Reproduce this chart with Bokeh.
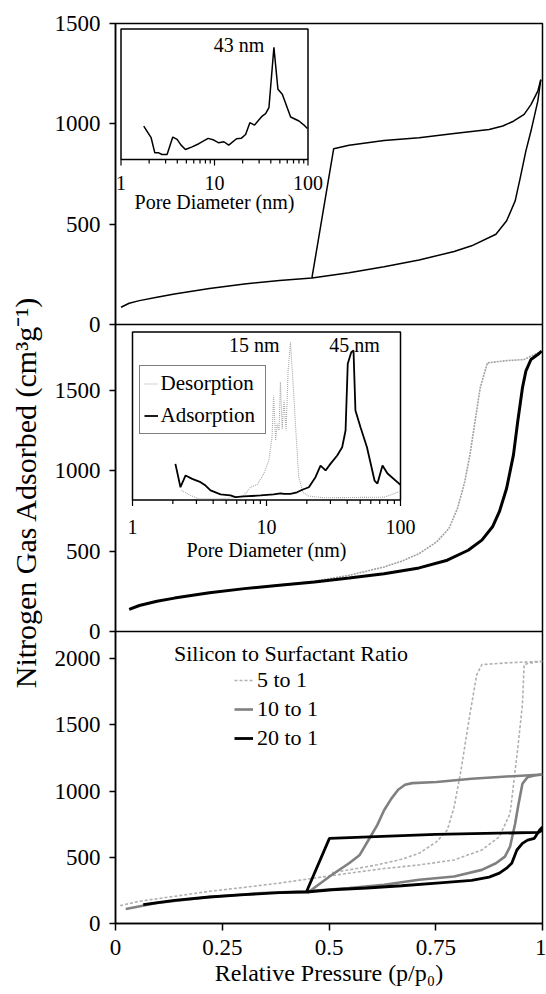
import math
from bokeh.plotting import figure
from bokeh.models import (Range1d, LogScale, FixedTicker, NumeralTickFormatter, CustomJSTickFormatter,
                          Span, Label, Legend, LegendItem)
from bokeh.core.properties import value
from bokeh.embed import file_html
from bokeh.resources import INLINE

FONT = "Liberation Serif"

# ---------------- data ----------------
x_ticks = [0, 0.25, 0.5, 0.75, 1]
x_title = "Relative Pressure (p/p\u2080)"
y_title = "Nitrogen Gas Adsorbed (cm\u00b3g\u207b\u00b9)"
top_y_ticks = [0, 500, 1000, 1500]
mid_y_ticks = [0, 500, 1000, 1500]
bot_y_ticks = [0, 500, 1000, 1500, 2000]
top_max, mid_max, bot_max = 1500, 1912, 2205

# top panel isotherm
top_ads_p = [0.013, 0.032, 0.056, 0.097, 0.138, 0.22, 0.302, 0.384, 0.46, 0.547, 0.629, 0.711,
             0.793, 0.834, 0.891, 0.916, 0.936, 0.948, 0.961, 0.973, 0.989, 0.996]
top_ads_v = [86, 106, 119, 136, 152, 179, 202, 219, 232, 258, 288, 321,
             364, 392, 450, 517, 616, 732, 864, 964, 1113, 1220]
top_des_p = [0.996, 0.989, 0.973, 0.957, 0.932, 0.907, 0.875, 0.793, 0.711, 0.629, 0.547, 0.511, 0.46]
top_des_v = [1220, 1163, 1096, 1047, 1013, 989, 972, 952, 931, 917, 893, 876, 232]

# top inset (pore size distribution, relative units)
in1_d = [1.75, 2.10, 2.30, 2.53, 2.75, 3.11, 3.58, 3.98, 4.39, 4.89, 5.76, 6.80, 8.55, 9.84, 11.1,
         12.6, 14.2, 17.2, 19.3, 21.5, 23.9, 26.8, 32.4, 35.2, 38.2, 43.2, 47.7, 53.1, 65.2, 80.1,
         90.6, 98.4]
in1_f = [0.256, 0.167, 0.051, 0.051, 0.038, 0.038, 0.172, 0.154, 0.110, 0.077, 0.097, 0.121, 0.162,
         0.149, 0.128, 0.136, 0.110, 0.159, 0.162, 0.192, 0.282, 0.264, 0.333, 0.351, 0.397, 0.859,
         0.538, 0.500, 0.326, 0.295, 0.264, 0.238]
in1_peak = "43 nm"

# middle panel isotherm
mid_ads_p = [0.032, 0.056, 0.097, 0.138, 0.22, 0.302, 0.384, 0.466, 0.547, 0.629, 0.711, 0.777,
             0.826, 0.858, 0.883, 0.899, 0.916, 0.932, 0.942, 0.953, 0.961, 0.973, 0.989, 0.998]
mid_ads_v = [138, 162, 188, 208, 242, 267, 288, 308, 333, 360, 396, 444,
             506, 569, 652, 746, 892, 1100, 1308, 1517, 1621, 1694, 1725, 1746]
mid_des_p = [0.998, 0.957, 0.916, 0.871, 0.854, 0.842, 0.830, 0.818, 0.801, 0.781, 0.752, 0.711,
             0.670, 0.629, 0.547, 0.466, 0.384, 0.302]
mid_des_v = [1746, 1694, 1687, 1673, 1517, 1308, 1100, 933, 767, 642, 558, 485,
             438, 402, 350, 313, 290, 268]

# middle inset
in2_ads_d = [2.09, 2.28, 2.49, 2.79, 3.22, 3.51, 3.82, 4.54, 5.38, 5.87, 6.78, 9.02, 11.3, 12.7,
             13.5, 15.1, 16.9, 18.5, 20.7, 23.2, 25.3, 27.6, 30.0, 33.7, 36.7, 38.9, 40.4, 42.9,
             44.6, 46.1, 50.3, 56.2, 64.0, 67.3, 73.4, 80.0, 100]
in2_ads_f = [0.215, 0.076, 0.146, 0.126, 0.106, 0.086, 0.057, 0.033, 0.027, 0.017, 0.021, 0.027,
             0.033, 0.040, 0.037, 0.037, 0.046, 0.061, 0.076, 0.136, 0.205, 0.176, 0.215, 0.265,
             0.314, 0.414, 0.811, 0.880, 0.890, 0.533, 0.433, 0.314, 0.116, 0.098, 0.205, 0.158,
             0.090]
in2_des_d = [2.32, 2.71, 3.13, 4.29, 5.70, 6.78, 7.60, 8.52, 9.55, 10.4, 11.0, 11.3, 11.7, 12.0,
             12.4, 12.7, 13.1, 13.5, 14.0, 14.5, 15.1, 15.8, 16.5, 17.4, 18.7, 20.7, 26.8, 76.0, 100]
in2_des_f = [0.057, 0.027, 0.007, 0.007, 0.013, 0.027, 0.076, 0.092, 0.156, 0.235, 0.374, 0.622,
             0.354, 0.454, 0.414, 0.701, 0.424, 0.592, 0.414, 0.771, 0.939, 0.692, 0.433, 0.136,
             0.046, 0.023, 0.013, 0.017, 0.052]
in2_labels = ["Desorption", "Adsorption"]
in2_peaks = ["15 nm", "45 nm"]
in2_peak_d = [8.1, 45.4]

inset_ticks = [1, 2, 3, 4, 5, 6, 7, 8, 9, 10, 20, 30, 40, 50, 60, 70, 80, 90, 100]
inset_major = [1, 10, 100]
inset_title = "Pore Diameter (nm)"

# bottom panel isotherms (silicon : surfactant)
ratio_title = "Silicon to Surfactant Ratio"
ratio_labels = ["5 to 1", "10 to 1", "20 to 1"]
bot5_ads_p = [0.011, 0.056, 0.138, 0.22, 0.302, 0.384, 0.466, 0.547, 0.629, 0.711, 0.793, 0.858,
              0.899, 0.924, 0.936, 0.944, 0.953, 0.957, 0.973, 1.0]
bot5_ads_v = [135, 168, 205, 243, 273, 305, 343, 380, 415, 442, 480, 555,
              655, 830, 1155, 1380, 1655, 1955, 1968, 1980]
bot5_des_p = [1.0, 0.916, 0.858, 0.846, 0.83, 0.809, 0.793, 0.777, 0.752, 0.711, 0.67, 0.613, 0.547, 0.507]
bot5_des_v = [1980, 1968, 1955, 1880, 1580, 1155, 880, 705, 618, 530, 485, 443, 405, 385]
bot10_ads_p = [0.024, 0.097, 0.22, 0.343, 0.447, 0.547, 0.629, 0.711, 0.793, 0.858, 0.891, 0.912,
               0.924, 0.936, 0.944, 0.953, 0.965, 0.981, 1.0]
bot10_ads_v = [110, 155, 200, 230, 243, 268, 293, 330, 355, 405, 455, 505,
               580, 755, 905, 1055, 1105, 1118, 1125]
bot10_des_p = [1.0, 0.916, 0.834, 0.752, 0.695, 0.678, 0.662, 0.646, 0.629, 0.613, 0.597, 0.572,
               0.547, 0.507, 0.449]
bot10_des_v = [1125, 1110, 1093, 1068, 1060, 1048, 1010, 943, 855, 743, 655, 518, 455, 368, 230]
bot20_ads_p = [0.065, 0.138, 0.22, 0.302, 0.384, 0.447, 0.507, 0.588, 0.67, 0.752, 0.834, 0.875,
               0.899, 0.916, 0.928, 0.94, 0.953, 0.965, 0.981, 0.993, 1.0]
bot20_ads_v = [143, 175, 200, 218, 233, 238, 255, 268, 285, 305, 325, 350,
               380, 418, 455, 555, 605, 630, 643, 705, 730]
bot20_des_p = [1.0, 0.99, 0.75, 0.501, 0.447]
bot20_des_v = [705, 688, 673, 643, 238]

# ---------------- layout ----------------
W, H = 546, 994
ML, MR, MT, MB = 115, 4, 23, 71
FW = W - ML - MR
FH = H - MT - MB
B1, B2 = 292, 599            # panel boundaries, px above frame bottom


def lin_range(vmax, a, b):
    s = vmax / (b - a)
    return Range1d(-a * s, (FH - a) * s)


def log_range(left, right, decades=2.0, xmin=1.0):
    dec = (right - left) / decades
    return Range1d(xmin * 10 ** (-left / dec), xmin * 10 ** ((FW - left) / dec))


def frac_range(bottom, top):
    h = top - bottom
    return Range1d(-bottom / h, (FH - bottom) / h)


# inset boxes (px inside the frame: left, right, bottom, top)
I1 = (5.5, 192.5, 764.0, 894.5)
I2 = (17.0, 285.0, 423.5, 591.5)

y_bot = lin_range(bot_max, 0, B1)
y_bot.end = y_bot.end * (1 + 1e-6)
y_mid = lin_range(mid_max, B1, B2)
y_top = lin_range(top_max, B2, FH)

p = figure(width=W, height=H, output_backend="svg", toolbar_location=None, tools="",
           x_range=Range1d(0, 1), y_range=y_bot,
           min_border_left=ML, min_border_right=MR, min_border_top=MT, min_border_bottom=MB)
p.extra_y_ranges = {"mid": y_mid, "top": y_top,
                    "i1y": frac_range(I1[2], I1[3]), "i2y": frac_range(I2[2], I2[3])}
p.extra_x_ranges = {"i1x": log_range(I1[0], I1[1]), "i2x": log_range(I2[0], I2[1])}
p.extra_x_scales = {"i1x": LogScale(), "i2x": LogScale()}

p.xgrid.visible = False
p.ygrid.visible = False
p.outline_line_color = "black"
p.outline_line_width = 1.5
p.background_fill_color = "white"
p.border_fill_color = "white"


def to_bottom_units(v, r):
    # position of value v of range r, expressed in the units of the shared left axis (y_bot)
    f = (v - r.start) / (r.end - r.start)
    return y_bot.start + f * (y_bot.end - y_bot.start)


tick_pos, tick_lab = [], []
for ticks, r in ((bot_y_ticks, y_bot), (mid_y_ticks, y_mid), (top_y_ticks, y_top)):
    for t in ticks:
        tick_pos.append(to_bottom_units(t, r))
        tick_lab.append(str(t))

# axes
xa = p.xaxis[0]
xa.ticker = FixedTicker(ticks=x_ticks)
xa.formatter = NumeralTickFormatter(format="0.[00]")
xa.axis_label = x_title
ya = p.yaxis[0]
ya.ticker = FixedTicker(ticks=tick_pos)
ya.formatter = CustomJSTickFormatter(args=dict(pos=tick_pos, labels=tick_lab), code="""
    for (let i = 0; i < pos.length; i++) {
        if (Math.abs(pos[i] - tick) < 1e-6 * Math.max(1, Math.abs(tick))) return labels[i];
    }
    return "";
""")
ya.axis_label = y_title + "\u00a0" * 5
for ax in (xa, ya):
    ax.axis_line_color = "black"
    ax.axis_line_width = 1.5
    ax.major_tick_line_width = 1.5
    ax.major_tick_in = 0
    ax.minor_tick_in = 0
    ax.minor_tick_out = 0
    ax.major_label_text_font = FONT
    ax.major_label_text_font_size = "23px"
    ax.major_label_text_color = "black"
    ax.axis_label_text_font = FONT
    ax.axis_label_text_font_style = "normal"
    ax.axis_label_text_color = "black"
xa.major_tick_out = 7
xa.major_label_standoff = 9
xa.axis_label_text_font_size = "24px"
xa.axis_label_standoff = 2
ya.major_tick_out = 6
ya.major_label_standoff = 9
ya.axis_label_text_font_size = "30px"
ya.axis_label_standoff = 10

# panel separators
for rn in ("top", "mid"):
    p.add_layout(Span(location=0, dimension="width", y_range_name=rn,
                      line_color="black", line_width=1.5))

# ---- top panel
p.line(top_ads_p, top_ads_v, y_range_name="top", line_color="black", line_width=1.5)
p.line(top_des_p, top_des_v, y_range_name="top", line_color="black", line_width=1.5)

# ---- middle panel
r_mid_des = p.line(mid_des_p, mid_des_v, y_range_name="mid", line_color="#a0a0a0",
                   line_width=1.6, line_dash="2 1")
r_mid_ads = p.line(mid_ads_p, mid_ads_v, y_range_name="mid", line_color="black", line_width=3)

# ---- bottom panel
r5a = p.line(bot5_ads_p, bot5_ads_v, line_color="#b0b0b0", line_width=1.6, line_dash="3 2")
p.line(bot5_des_p, bot5_des_v, line_color="#b0b0b0", line_width=1.6, line_dash="3 2")
r10a = p.line(bot10_ads_p, bot10_ads_v, line_color="#808080", line_width=2.6)
p.line(bot10_des_p, bot10_des_v, line_color="#808080", line_width=2.6)
r20a = p.line(bot20_ads_p, bot20_ads_v, line_color="black", line_width=2.8)
p.line(bot20_des_p, bot20_des_v, line_color="black", line_width=2.8)


def draw_inset(xr, yr, box, tick_dy, title_dy):
    h = box[3] - box[2]
    p.quad(left=[1], right=[100], bottom=[0], top=[1], x_range_name=xr, y_range_name=yr,
           fill_color="white", line_color="black", line_width=1.5)
    lens = [(6.0 if t in inset_major else 4.0) / h for t in inset_ticks]
    p.segment(x0=inset_ticks, y0=[0] * len(inset_ticks), x1=inset_ticks, y1=[-l for l in lens],
              x_range_name=xr, y_range_name=yr, line_color="black", line_width=1.2)
    p.text(x=inset_major, y=[-tick_dy / h] * len(inset_major), text=[str(t) for t in inset_major],
           x_range_name=xr, y_range_name=yr, text_align="center", text_baseline="middle",
           text_font=value(FONT), text_font_size="20px", text_color="black")
    p.text(x=[10], y=[-title_dy / h], text=[inset_title], x_range_name=xr, y_range_name=yr,
           text_align="center", text_baseline="middle", text_font=value(FONT),
           text_font_size="20px", text_color="black")


# ---- top inset
draw_inset("i1x", "i1y", I1, 23.5, 42.7)
p.line(in1_d, in1_f, x_range_name="i1x", y_range_name="i1y", line_color="black", line_width=1.5)
p.text(x=[18.3], y=[0.879], text=[in1_peak], x_range_name="i1x", y_range_name="i1y",
       text_align="center", text_baseline="middle", text_font=value(FONT),
       text_font_size="20px", text_color="black")

# ---- middle inset
draw_inset("i2x", "i2y", I2, 27.0, 49.5)
r_in2_des = p.line(in2_des_d, in2_des_f, x_range_name="i2x", y_range_name="i2y",
                   line_color="#a8a8a8", line_width=1.1, line_dash="1 1")
r_in2_ads = p.line(in2_ads_d, in2_ads_f, x_range_name="i2x", y_range_name="i2y",
                   line_color="black", line_width=1.8)
p.text(x=in2_peak_d, y=[0.92, 0.92], text=in2_peaks, x_range_name="i2x", y_range_name="i2y",
       text_align="center", text_baseline="middle", text_font=value(FONT),
       text_font_size="20px", text_color="black")

leg_in = Legend(items=[LegendItem(label=in2_labels[0], renderers=[r_in2_des]),
                       LegendItem(label=in2_labels[1], renderers=[r_in2_ads])],
                location=(23.5, 489.3), orientation="vertical",
                label_text_font=FONT, label_text_font_size="21px", label_text_color="black",
                glyph_width=14, glyph_height=27, label_height=27, label_width=100,
                label_standoff=3, spacing=5, padding=4, margin=0,
                border_line_color="black", border_line_width=1,
                background_fill_color="white", background_fill_alpha=1)
p.add_layout(leg_in)

# ---- bottom legend
leg_bot = Legend(items=[LegendItem(label=ratio_labels[0], renderers=[r5a]),
                        LegendItem(label=ratio_labels[1], renderers=[r10a]),
                        LegendItem(label=ratio_labels[2], renderers=[r20a])],
                 location=(119, 171.6), orientation="vertical",
                 label_text_font=FONT, label_text_font_size="22px", label_text_color="black",
                 glyph_width=19, glyph_height=24, label_height=24, label_standoff=4,
                 spacing=3, padding=0, margin=0,
                 border_line_color=None, background_fill_alpha=0)
p.add_layout(leg_bot)
p.add_layout(Label(x=58.5, y=270.3, x_units="screen", y_units="screen", text=ratio_title,
                   text_font=FONT, text_font_size="22px", text_align="left",
                   text_baseline="middle", text_color="black"))

open("out.html", "w").write(file_html(p, INLINE))
